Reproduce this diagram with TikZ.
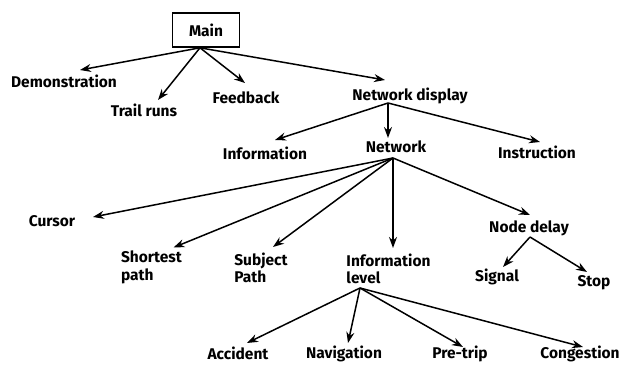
\documentclass[tikz,border=0pt]{standalone}
\usepackage{fontspec}
\setsansfont{Fira Sans}
\usetikzlibrary{arrows.meta}
\begin{document}
\begin{tikzpicture}[x=1pt,y=-1pt,
  lbl/.style={font=\sffamily\bfseries\fontsize{15.5}{17.5}\selectfont, inner sep=0pt, align=left},
  arr/.style={line width=1.5pt, -{Stealth[length=11pt,width=8pt]}},
  boxst/.style={draw, line width=1.6pt, minimum width=67pt, minimum height=34pt, inner sep=0pt, font=\sffamily\bfseries\fontsize{15.5}{17.5}\selectfont}]
\useasboundingbox (0,0) rectangle (623,364);
\node[boxst] (main) at (206,30) {Main};
\node[lbl] (demo) at (64,81) {Demonstration};
\node[lbl] (trail) at (144,110) {Trail runs};
\node[lbl] (feed) at (246,98) {Feedback};
\node[lbl] (nd) at (410,96) {Network display};
\node[lbl] (net) at (396,147) {Network};
\node[lbl] (info) at (265,153) {Information};
\node[lbl] (instr) at (537,152) {Instruction};
\node[lbl] (cursor) at (52,221) {Cursor};
\node[lbl] (short) at (151.5,267.5) {Shortest\\path};
\node[lbl] (subj) at (261,268) {Subject\\Path};
\node[lbl] (il) at (388.5,269) {Information\\level};
\node[lbl] (delay) at (529,228) {Node delay};
\node[lbl] (signal) at (497,277) {Signal};
\node[lbl] (stop) at (594,283) {Stop};
\node[lbl] (acc) at (238,353) {Accident};
\node[lbl] (nav) at (344,354) {Navigation};
\node[lbl] (pre) at (460,354) {Pre-trip};
\node[lbl] (cong) at (580,354) {Congestion};
% Main
\coordinate (ms) at ([xshift=-6pt]main.south);
\draw[arr] (ms) -- ([xshift=16pt,yshift=11pt]demo.center);
\draw[arr] (ms) -- ([xshift=14pt,yshift=10pt]trail.center);
\draw[arr] (ms) -- ([xshift=-1pt,yshift=15pt]feed.center);
\draw[arr] (ms) -- ([xshift=-25pt,yshift=16pt]nd.center);
% Network display
\coordinate (nds) at ([xshift=-22pt,yshift=-7pt]nd.center);
\draw[arr] (nds) -- ([xshift=-8pt,yshift=9pt]net.center);
\draw[arr] (nds) -- ([xshift=10pt,yshift=13pt]info.center);
\draw[arr] (nds) -- ([xshift=3pt,yshift=10pt]instr.center);
% Network
\coordinate (nets) at ([xshift=-3pt,yshift=-11pt]net.center);
\draw[arr] (nets) -- ([xshift=41pt,yshift=4pt]cursor.center);
\draw[arr] (nets) -- ([xshift=22pt,yshift=20pt]short.center);
\draw[arr] (nets) -- ([xshift=12pt,yshift=21pt]subj.center);
\draw[arr] (nets) -- ([xshift=4.5pt,yshift=21pt]il.center);
\draw[arr] (nets) -- ([xshift=1pt,yshift=13pt]delay.center);
% Node delay
\coordinate (dls) at ([xshift=1pt,yshift=-9pt]delay.center);
\draw[arr] (dls) -- ([xshift=6pt,yshift=10pt]signal.center);
\draw[arr] (dls) -- ([xshift=-7pt,yshift=11pt]stop.center);
% Information level
\coordinate (ils) at ([xshift=-28.5pt,yshift=-19pt]il.center);
\draw[arr] (ils) -- ([xshift=9pt,yshift=10pt]acc.center);
\draw[arr] (ils) -- ([xshift=4pt,yshift=11pt]nav.center);
\draw[arr] (ils) -- ([xshift=3pt,yshift=7pt]pre.center);
\draw[arr] (ils) -- ([xshift=3pt,yshift=7pt]cong.center);
\end{tikzpicture}
\end{document}
